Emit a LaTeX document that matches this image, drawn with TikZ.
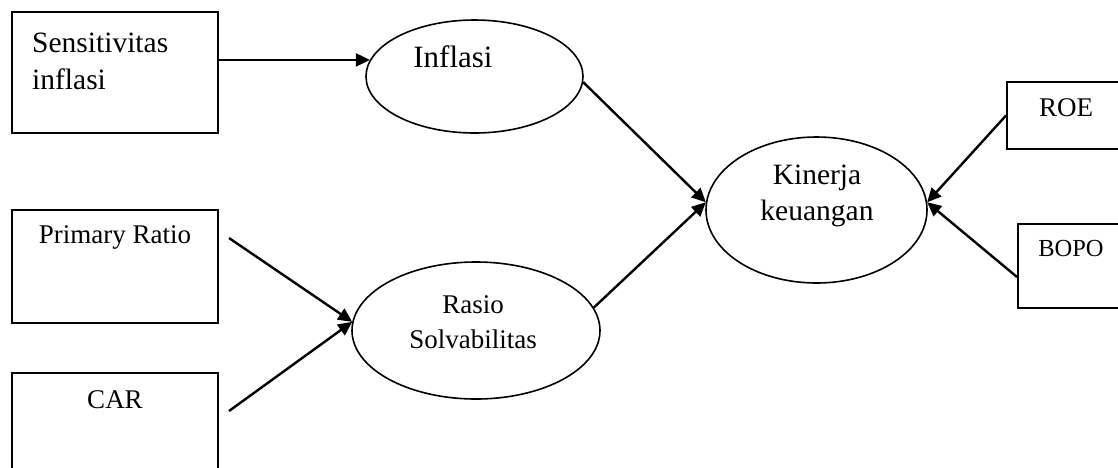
\documentclass[tikz,border=0pt]{standalone}
\usepackage{fontspec}
\setmainfont{Liberation Serif}
\usetikzlibrary{shapes.geometric,arrows.meta,calc}
\begin{document}
\begin{tikzpicture}[x=1pt,y=-1pt,
  boxnode/.style={draw,line width=2pt,rectangle,inner sep=0pt},
  ellnode/.style={draw,line width=1.6pt,ellipse,inner sep=0pt},
  lbl/.style={inner sep=0pt,align=center},
  conn/.style={line width=2.4pt,-{Triangle[length=14pt,width=13pt]}}]
\clip (0,0) rectangle (1118,467);
\useasboundingbox (0,0) rectangle (1118,467);
% boxes
\node[boxnode,minimum width=206pt,minimum height=121pt] (sens) at (115,72.5) {};
\node[boxnode,minimum width=206pt,minimum height=113pt] (pr) at (115,266.5) {};
\node[boxnode,minimum width=206pt,minimum height=113pt] (car) at (115,429.5) {};
\node[boxnode,minimum width=123pt,minimum height=67pt] (roe) at (1068.5,115.5) {};
\node[boxnode,minimum width=122pt,minimum height=84pt] (bopo) at (1079,266) {};
% ellipses
\node[ellnode,minimum width=217pt,minimum height=113pt] (infl) at (474.5,76.5) {};
\node[ellnode,minimum width=248pt,minimum height=137pt] (rasio) at (476,330.5) {};
\node[ellnode,minimum width=221pt,minimum height=146pt] (kin) at (816.5,210) {};
% texts
\node[lbl,anchor=west,align=left,font=\fontsize{29.5}{37}\selectfont] (tsens) at (32,61.5) {Sensitivitas\\inflasi};
\node[lbl,font=\fontsize{31}{36}\selectfont] (tinfl) at (453,57) {Inflasi};
\node[lbl,font=\fontsize{29.5}{36}\selectfont] (tkin) at (817,196) {Kinerja\\keuangan};
\node[lbl,font=\fontsize{27}{35}\selectfont] (trasio) at (473,322) {Rasio\\Solvabilitas};
\node[lbl,font=\fontsize{27}{32}\selectfont] (tpr) at (115,237) {Primary Ratio};
\node[lbl,font=\fontsize{27}{32}\selectfont] (tcar) at (115,400) {CAR};
\node[lbl,font=\fontsize{27}{32}\selectfont] (troe) at (1066,108) {ROE};
\node[lbl,font=\fontsize{24.5}{30}\selectfont] (tbopo) at (1071,249) {BOPO};
% connector anchors
\coordinate (prout) at ($(pr.east)+(10,-28.5)$);
\coordinate (carout) at ($(car.north east)+(10,39)$);
\coordinate (bopoout) at ($(bopo.west)+(0,11)$);
% connectors
\draw[conn] (infl.171 -| sens.east) -- (infl.171);
\draw[conn] (prout) -- (rasio.176);
\draw[conn] (carout) -- (rasio.176);
\draw[conn] (infl.-3) -- (kin.176);
\draw[conn] (rasio.11) -- (kin.176);
\draw[conn] (roe.west) -- (kin.4);
\draw[conn] (bopoout) -- (kin.4);
\end{tikzpicture}
\end{document}
